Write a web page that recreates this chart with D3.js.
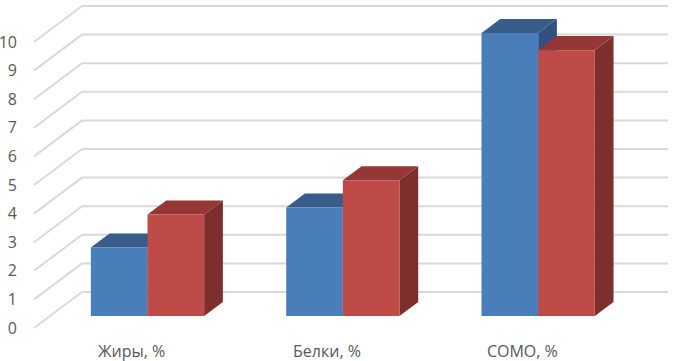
<!DOCTYPE html>
<html>
<head>
<meta charset="utf-8">
<script src="https://cdn.jsdelivr.net/npm/d3@7"></script>
<style>
  body { margin: 0; background: #fff; }
  text { font-family: "Open Sans", "Noto Sans", sans-serif; fill: #595959; }
</style>
</head>
<body>
<svg id="chart"></svg>
<script>
// Chart data
const categories = ["Жиры, %", "Белки, %", "СОМО, %"];
const seriesNames = ["Ряд 1", "Ряд 2"];
const series1 = [2.4, 3.8, 9.9];
const series2 = [3.55, 4.75, 9.3];
const yTicks = [0, 1, 2, 3, 4, 5, 6, 7, 8, 9, 10];

const width = 673, height = 361;

// Front plane of the 3D box and the depth offset towards the back wall
const front = { left: 34, right: 620, bottom: 328, top: 42 };
const depth = { dx: 48, dy: -36 };
// Bars sit between these depth fractions
const barNear = 0.33, barFar = 0.72;

const svg = d3.select("#chart")
  .attr("width", width)
  .attr("height", height);

const y = d3.scaleLinear()
  .domain([0, 10])
  .range([front.bottom, front.top]);

const x = d3.scaleBand()
  .domain(categories)
  .range([front.left, front.right])
  .paddingInner(0.42)
  .paddingOuter(0.21);

const xSeries = d3.scaleBand()
  .domain(seriesNames)
  .range([0, x.bandwidth()]);

// Gridlines: diagonal on the floor-left edge and horizontal on the back wall
const grid = svg.append("g")
  .attr("stroke", "#d9d9d9")
  .attr("stroke-width", 2)
  .attr("fill", "none");

grid.selectAll(".diag")
  .data(yTicks)
  .enter().append("line")
  .attr("x1", front.left)
  .attr("y1", d => y(d))
  .attr("x2", front.left + depth.dx)
  .attr("y2", d => y(d) + depth.dy);

grid.selectAll(".back")
  .data(yTicks)
  .enter().append("line")
  .attr("x1", front.left + depth.dx)
  .attr("y1", d => y(d) + depth.dy)
  .attr("x2", front.right + depth.dx)
  .attr("y2", d => y(d) + depth.dy);

// Y tick labels
svg.selectAll(".ytick")
  .data(yTicks)
  .enter().append("text")
  .attr("x", 17)
  .attr("y", d => y(d))
  .attr("dy", "0.35em")
  .attr("text-anchor", "end")
  .style("font-size", "16px")
  .text(d => d);

// Build bar records
const colors = [
  { front: "#4a7ebb", top: "#385d8a", side: "#2f5080" },
  { front: "#be4b48", top: "#953735", side: "#7d2f2d" }
];
const bars = [];
categories.forEach((c, i) => {
  [series1, series2].forEach((s, j) => {
    bars.push({ cat: c, series: seriesNames[j], value: s[i], color: colors[j] });
  });
});

function pt(px, py, f) {
  return [px + depth.dx * f, py + depth.dy * f];
}

const barG = svg.append("g");
bars.forEach(b => {
  const x0 = x(b.cat) + xSeries(b.series);
  const x1 = x0 + xSeries.bandwidth();
  const yb = y(0), yt = y(b.value);
  const g = barG.append("g");
  const poly = pts => pts.map(p => p.join(",")).join(" ");
  // right side face
  g.append("polygon")
    .attr("points", poly([pt(x1, yb, barNear), pt(x1, yb, barFar), pt(x1, yt, barFar), pt(x1, yt, barNear)]))
    .attr("fill", b.color.side);
  // top face
  g.append("polygon")
    .attr("points", poly([pt(x0, yt, barNear), pt(x1, yt, barNear), pt(x1, yt, barFar), pt(x0, yt, barFar)]))
    .attr("fill", b.color.top);
  // front face
  g.append("polygon")
    .attr("points", poly([pt(x0, yb, barNear), pt(x1, yb, barNear), pt(x1, yt, barNear), pt(x0, yt, barNear)]))
    .attr("fill", b.color.front);
});

// Category labels
svg.selectAll(".xlabel")
  .data(categories)
  .enter().append("text")
  .attr("x", d => x(d) + x.bandwidth() / 2)
  .attr("y", 357)
  .attr("text-anchor", "middle")
  .style("font-size", "16px")
  .text(d => d);
</script>
</body>
</html>
